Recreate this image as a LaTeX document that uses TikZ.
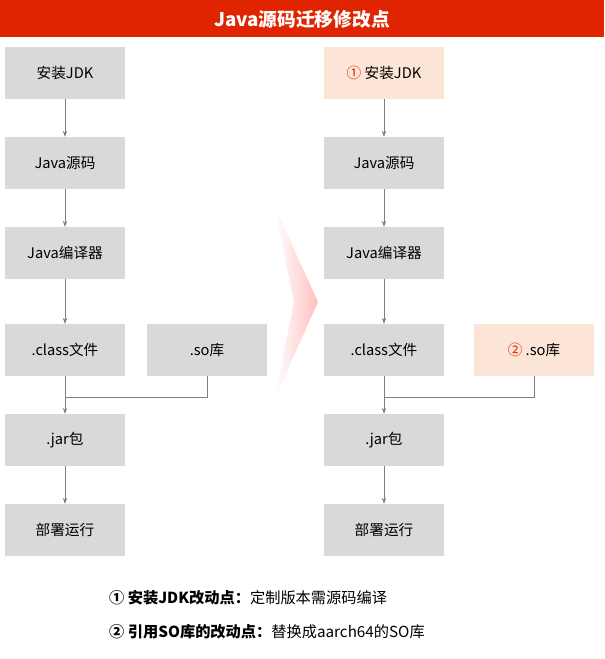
\documentclass[tikz,border=0pt]{standalone}
\usepackage{fontspec}
\setmainfont{Noto Sans CJK SC}
\usetikzlibrary{positioning, arrows.meta, calc}
\definecolor{titlered}{HTML}{E02400}
\definecolor{boxgray}{HTML}{D9D9D9}
\definecolor{boxorange}{HTML}{FCE4D6}
\definecolor{linegray}{HTML}{7F7F7F}

\begin{document}
\begin{tikzpicture}[x=0.03cm, y=-0.03cm,
    stepbox/.style={rectangle, fill=boxgray, minimum width=3.6cm, minimum height=1.56cm, font=\fontsize{12.5}{15}\selectfont},
    changebox/.style={stepbox, fill=boxorange},
    flow/.style={draw=linegray, line width=0.6pt, -{Stealth[length=5pt]}},
    joinline/.style={draw=linegray, line width=0.6pt}
]
\useasboundingbox (0,0) rectangle (604,659);
\fill[titlered] (0,0) rectangle (604,37);
\node[text=white, font=\fontsize{16}{19}\selectfont\bfseries](title) at (302,19) {Java源码迁移修改点};

% left column
\node[stepbox](l1) at (65,73) {安装JDK};
\node[stepbox](l2) at (65,163) {Java源码};
\node[stepbox](l3) at (65,253) {Java编译器};
\node[stepbox](l4) at (65,350) {.class文件};
\node[stepbox](lso) at (207,350) {.so库};
\node[stepbox](l5) at (65,440) {.jar包};
\node[stepbox](l6) at (65,530) {部署运行};

% right column
\node[changebox](r1) at (384,73) {\textcolor{titlered}{①} 安装JDK};
\node[stepbox](r2) at (384,163) {Java源码};
\node[stepbox](r3) at (384,253) {Java编译器};
\node[stepbox](r4) at (384,350) {.class文件};
\node[changebox](rso) at (534,350) {\textcolor{titlered}{②} .so库};
\node[stepbox](r5) at (384,440) {.jar包};
\node[stepbox](r6) at (384,530) {部署运行};

\coordinate (ljoin) at (65,397);
\coordinate (rjoin) at (384,397);

\draw[flow] (l1) -- (l2);
\draw[flow] (l2) -- (l3);
\draw[flow] (l3) -- (l4);
\draw[joinline] (l4) -- (ljoin);
\draw[joinline] (lso.south) |- (ljoin);
\draw[flow] (ljoin) -- (l5);
\draw[flow] (l5) -- (l6);

\draw[flow] (r1) -- (r2);
\draw[flow] (r2) -- (r3);
\draw[flow] (r3) -- (r4);
\draw[joinline] (r4) -- (rjoin);
\draw[joinline] (rso.south) |- (rjoin);
\draw[flow] (rjoin) -- (r5);
\draw[flow] (r5) -- (r6);

% transition arrow
\shade[left color=white, right color=red!25, draw=none]
    (274,205) -- (318,302) -- (274,400) -- (294,302) -- cycle;

% notes
\node[anchor=west, font=\fontsize{13}{16}\selectfont](note1) at (105,598)
    {\textbf{① 安装JDK改动点：}定制版本需源码编译};
\node[anchor=west, font=\fontsize{13}{16}\selectfont](note2) at (105,632)
    {\textbf{② 引用SO库的改动点：}替换成aarch64的SO库};
\end{tikzpicture}
\end{document}
